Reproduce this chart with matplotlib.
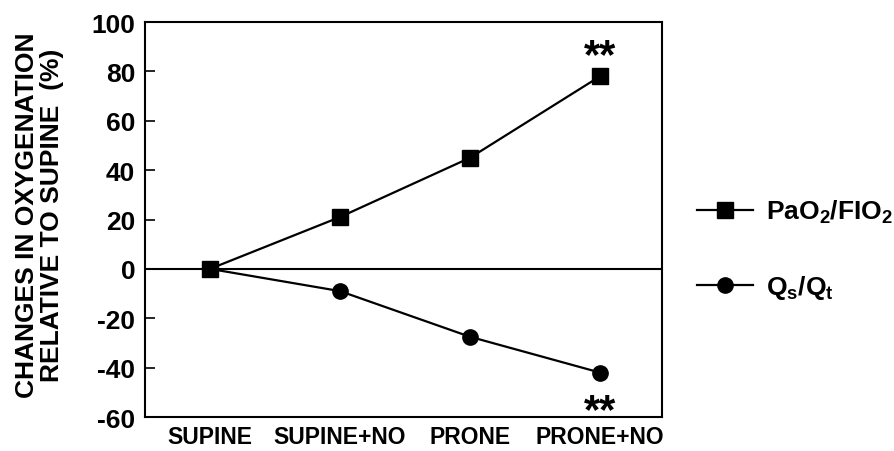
import matplotlib
matplotlib.use("Agg")
import matplotlib.pyplot as plt

plt.rcParams['font.family'] = ['Liberation Sans', 'DejaVu Sans']
plt.rcParams['font.weight'] = 'bold'
plt.rcParams['axes.unicode_minus'] = False
plt.rcParams['mathtext.fontset'] = 'custom'
plt.rcParams['mathtext.rm'] = 'Liberation Sans:bold'
plt.rcParams['mathtext.bf'] = 'Liberation Sans:bold'
plt.rcParams['mathtext.it'] = 'Liberation Sans:bold'
plt.rcParams['mathtext.default'] = 'bf'

categories = ['SUPINE', 'SUPINE+NO', 'PRONE', 'PRONE+NO']
pao2_fio2 = [0, 21, 45, 78]
qs_qt = [0, -9, -27.5, -42]
pao2_sig = ['', '', '', '**']
qs_sig = ['', '', '', '**']
yticks = [-60, -40, -20, 0, 20, 40, 60, 80, 100]

fig = plt.figure(figsize=(8.94, 4.52), dpi=100)
ax = fig.add_axes([0.1622, 0.0752, 0.5783, 0.8739])

x = list(range(len(categories)))
ax.axhline(0, color='black', lw=1.5, zorder=1)
l2, = ax.plot(x, qs_qt, color='black', lw=1.6, marker='o', markersize=11,
              zorder=3, label='Q$_s$/Q$_t$')
l1, = ax.plot(x, pao2_fio2, color='black', lw=1.6, marker='s', markersize=12,
              zorder=4, label='PaO$_2$/FIO$_2$')

for xi, yi, s in zip(x, pao2_fio2, pao2_sig):
    if s:
        ax.annotate(s, (xi, yi), xytext=(0, 7), textcoords='offset points',
                    ha='center', va='baseline', fontsize=30, fontweight='bold',
                    annotation_clip=False)
for xi, yi, s in zip(x, qs_qt, qs_sig):
    if s:
        ax.annotate(s, (xi, yi), xytext=(0, -35.5), textcoords='offset points',
                    ha='center', va='baseline', fontsize=30, fontweight='bold',
                    annotation_clip=False)

ax.set_xlim(-0.5, 3.477)
ax.set_ylim(-60, 100)
ax.set_yticks(yticks)
ax.set_yticklabels([str(v) for v in yticks])
ax.set_xticks(x)
ax.set_xticklabels(categories)
ax.tick_params(axis='y', direction='in', length=7, width=1.2, pad=7, labelsize=19)
ax.tick_params(axis='x', length=0, pad=6, labelsize=16.5)
for sp in ax.spines.values():
    sp.set_linewidth(1.5)

ax.set_ylabel('CHANGES IN OXYGENATION\nRELATIVE TO SUPINE  (%)', fontsize=19,
              fontweight='bold', linespacing=1.05)
ax.yaxis.set_label_coords(-0.157, 0.513)

ax.legend(handles=[l1, l2], loc='center left', bbox_to_anchor=(1.048, 0.424),
          frameon=False, fontsize=19, handlelength=2.1, handletextpad=0.5,
          labelspacing=1.8, borderaxespad=0)

fig.savefig('out.png', dpi=100, facecolor='white')
